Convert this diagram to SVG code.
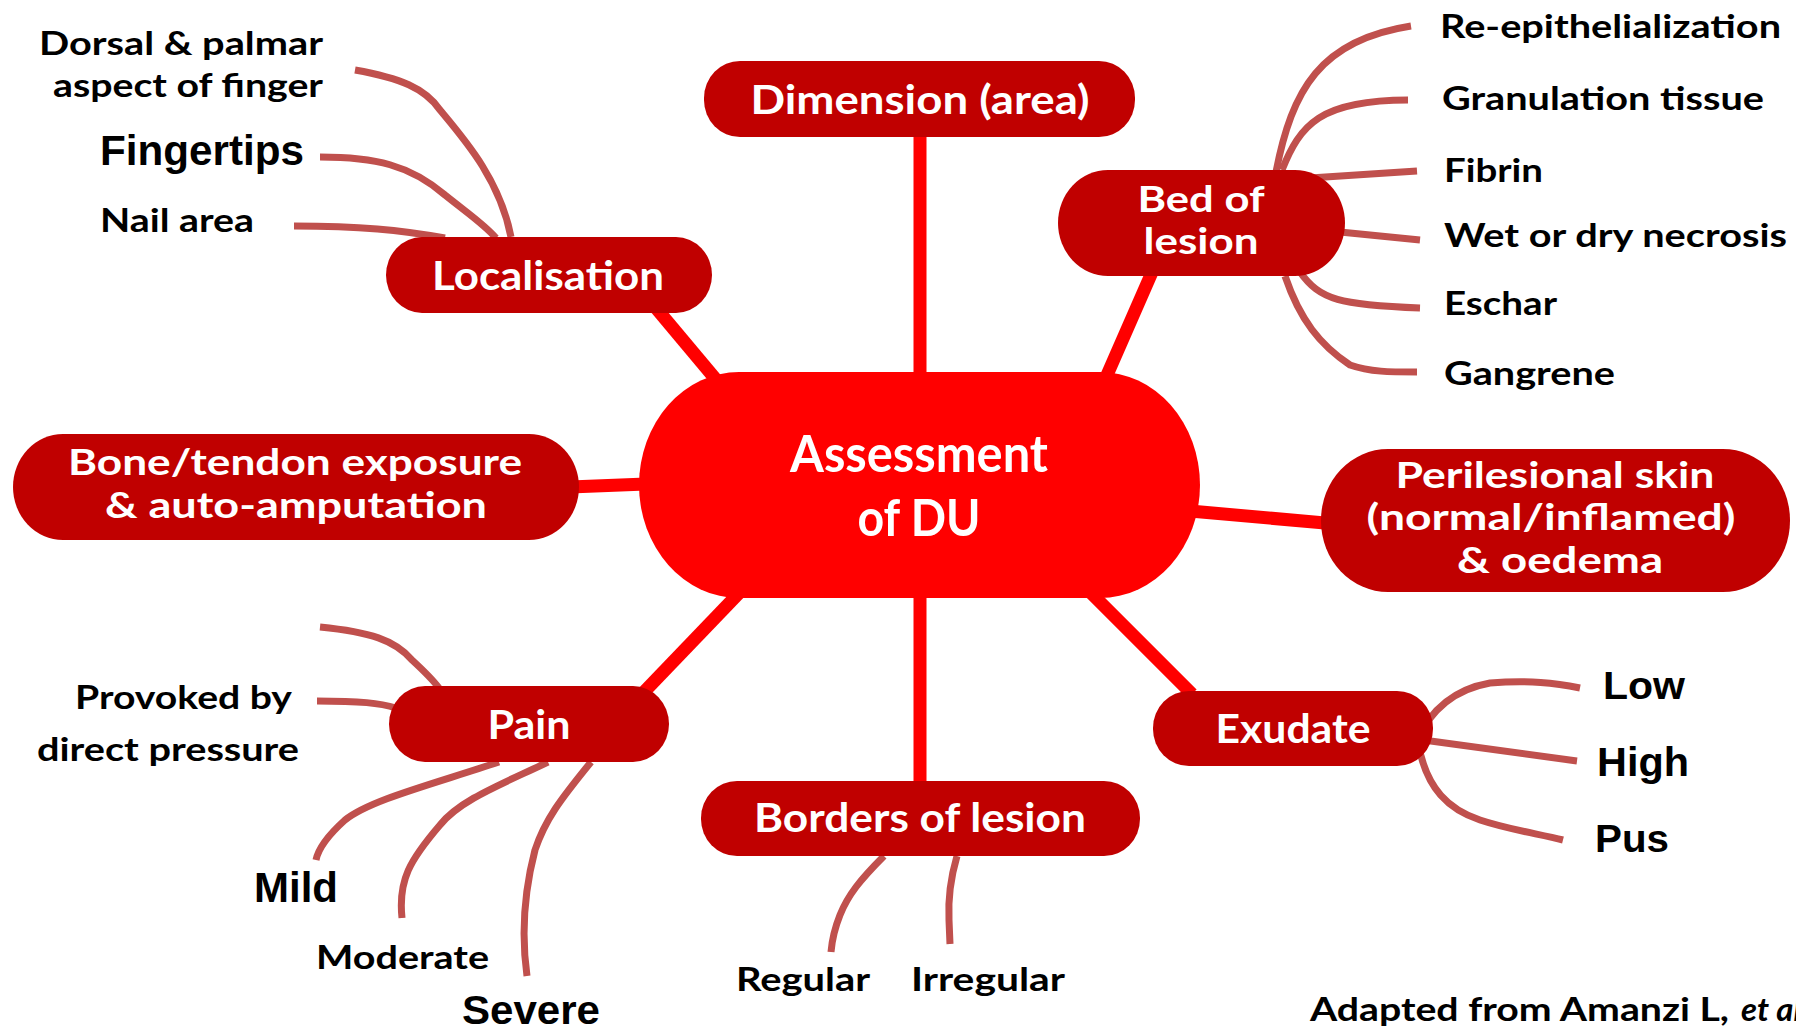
<svg xmlns="http://www.w3.org/2000/svg" width="1796" height="1029" viewBox="0 0 1796 1029">
<style>
.node{fill:#C00000}
.core{fill:#FF0000}
.main{stroke:#FF0000;stroke-width:13;fill:none}
.br{stroke:#C0504D;stroke-width:7;fill:none}
.nt{font-family:Lato,"Liberation Sans",sans-serif;font-weight:bold;fill:#FFFFFF;font-size:40px;text-anchor:middle}
.nt2{font-family:Lato,"Liberation Sans",sans-serif;font-weight:bold;fill:#FFFFFF;font-size:37px;text-anchor:middle}
.ct{font-family:Lato,"Liberation Sans",sans-serif;font-weight:bold;fill:#FFFFFF;font-size:52px;text-anchor:middle}
.lt{font-family:Lato,"Liberation Sans",sans-serif;font-weight:bold;fill:#000000;font-size:33px}
.at{font-family:"Liberation Sans",Arial,sans-serif;font-weight:bold;fill:#000000}
</style>
<rect width="1796" height="1029" fill="#FFFFFF"/>
<g id="connectors">
<line class="main" x1="920" y1="380" x2="920" y2="130"/>
<line class="main" x1="920" y1="590" x2="920" y2="785"/>
<line class="main" x1="718" y1="382" x2="656" y2="308"/>
<line class="main" x1="1104" y1="382" x2="1153" y2="270"/>
<line class="main" x1="570" y1="487" x2="646" y2="484"/>
<line class="main" x1="1190" y1="511" x2="1325" y2="523"/>
<line class="main" x1="740" y1="592" x2="644" y2="692"/>
<line class="main" x1="1090" y1="592" x2="1192" y2="694"/>
<path class="br" d="M355,70 C400,78 425,88 440,110 C465,140 500,180 511,237"/>
<path class="br" d="M320,157 C375,157 410,165 445,195 C470,215 485,225 496,238"/>
<path class="br" d="M294,226 C360,226 400,230 445,238"/>
<path class="br" d="M1276,172 C1292,90 1320,40 1411,26"/>
<path class="br" d="M1282,170 C1300,125 1320,100 1408,100"/>
<path class="br" d="M1310,178 L1417,171"/>
<path class="br" d="M1340,232 L1420,240"/>
<path class="br" d="M1300,272 C1320,300 1340,305 1420,308"/>
<path class="br" d="M1285,276 C1300,320 1320,345 1350,365 C1370,372 1390,372 1417,372"/>
<path class="br" d="M320,627 C370,632 395,640 412,660 C425,672 433,680 439,688"/>
<path class="br" d="M317,701 C360,701 380,703 396,708"/>
<path class="br" d="M499,762 C430,785 370,800 345,820 C325,838 318,850 316,860"/>
<path class="br" d="M548,762 C500,785 460,800 440,825 C410,860 398,880 402,918"/>
<path class="br" d="M591,762 C560,800 545,820 535,850 C522,900 522,940 527,976"/>
<path class="br" d="M884,856 C860,880 848,895 840,915 C834,930 832,940 831,952"/>
<path class="br" d="M957,856 C950,880 948,900 949,920 L950,944"/>
<path class="br" d="M1416,742 C1428,715 1450,690 1490,683 C1530,680 1555,683 1580,688"/>
<path class="br" d="M1416,739 L1577,761"/>
<path class="br" d="M1418,742 C1426,790 1450,810 1480,820 C1510,830 1540,834 1563,840"/>
</g>
<g id="n-center">
<rect class="core" x="639" y="372" width="561" height="226" rx="100" ry="113"/>
<text class="ct" x="919" y="472" textLength="258" lengthAdjust="spacingAndGlyphs">Assessment</text>
<text class="ct" x="919" y="536" textLength="123" lengthAdjust="spacingAndGlyphs">of DU</text>
</g>
<g id="n-dimension">
<rect class="node" x="704" y="61" width="431" height="76" rx="36" ry="37"/>
<text class="nt" x="920" y="114" textLength="339" lengthAdjust="spacingAndGlyphs">Dimension (area)</text>
</g>
<g id="n-bed">
<rect class="node" x="1058" y="170" width="287" height="106" rx="50" ry="53"/>
<text class="nt2" x="1201" y="212" textLength="127" lengthAdjust="spacingAndGlyphs">Bed of</text>
<text class="nt2" x="1201" y="254" textLength="115" lengthAdjust="spacingAndGlyphs">lesion</text>
</g>
<g id="n-localisation">
<rect class="node" x="386" y="237" width="326" height="76" rx="36" ry="38"/>
<text class="nt" x="548" y="290" textLength="232" lengthAdjust="spacingAndGlyphs">Localisation</text>
</g>
<g id="n-bone">
<rect class="node" x="13" y="434" width="566" height="106" rx="50" ry="53"/>
<text class="nt2" x="295" y="475" textLength="454" lengthAdjust="spacingAndGlyphs">Bone/tendon exposure</text>
<text class="nt2" x="296" y="518" textLength="382" lengthAdjust="spacingAndGlyphs">&amp; auto-amputation</text>
</g>
<g id="n-perilesional">
<rect class="node" x="1321" y="449" width="469" height="143" rx="67" ry="71"/>
<text class="nt2" x="1555" y="488" textLength="319" lengthAdjust="spacingAndGlyphs">Perilesional skin</text>
<text class="nt2" x="1551" y="530" textLength="369" lengthAdjust="spacingAndGlyphs">(normal/inflamed)</text>
<text class="nt2" x="1560" y="573" textLength="206" lengthAdjust="spacingAndGlyphs">&amp; oedema</text>
</g>
<g id="n-pain">
<rect class="node" x="389" y="686" width="280" height="76" rx="36" ry="38"/>
<text class="nt" x="529" y="739" textLength="83" lengthAdjust="spacingAndGlyphs">Pain</text>
</g>
<g id="n-borders">
<rect class="node" x="701" y="781" width="439" height="75" rx="36" ry="37"/>
<text class="nt" x="920" y="832" textLength="332" lengthAdjust="spacingAndGlyphs">Borders of lesion</text>
</g>
<g id="n-exudate">
<rect class="node" x="1153" y="691" width="280" height="75" rx="36" ry="37"/>
<text class="nt" x="1293" y="743" textLength="155" lengthAdjust="spacingAndGlyphs">Exudate</text>
</g>
<g id="leaves">
<text class="lt" x="39" y="55" textLength="284" lengthAdjust="spacingAndGlyphs">Dorsal &amp; palmar</text>
<text class="lt" x="53" y="97" textLength="270" lengthAdjust="spacingAndGlyphs">aspect of finger</text>
<text class="at" x="100" y="165" font-size="42" textLength="204" lengthAdjust="spacingAndGlyphs">Fingertips</text>
<text class="lt" x="100" y="232" textLength="154" lengthAdjust="spacingAndGlyphs">Nail area</text>
<text class="lt" x="1440" y="38" textLength="341" lengthAdjust="spacingAndGlyphs">Re-epithelialization</text>
<text class="lt" x="1442" y="110" textLength="322" lengthAdjust="spacingAndGlyphs">Granulation tissue</text>
<text class="lt" x="1444" y="182" textLength="99" lengthAdjust="spacingAndGlyphs">Fibrin</text>
<text class="lt" x="1444" y="247" textLength="343" lengthAdjust="spacingAndGlyphs">Wet or dry necrosis</text>
<text class="lt" x="1444" y="315" textLength="113" lengthAdjust="spacingAndGlyphs">Eschar</text>
<text class="lt" x="1444" y="385" textLength="171" lengthAdjust="spacingAndGlyphs">Gangrene</text>
<text class="lt" x="75" y="709" textLength="217" lengthAdjust="spacingAndGlyphs">Provoked by</text>
<text class="lt" x="37" y="761" textLength="262" lengthAdjust="spacingAndGlyphs">direct pressure</text>
<text class="at" x="254" y="902" font-size="42" textLength="84" lengthAdjust="spacingAndGlyphs">Mild</text>
<text class="lt" x="316" y="969" textLength="173" lengthAdjust="spacingAndGlyphs">Moderate</text>
<text class="at" x="462" y="1024" font-size="40" textLength="138" lengthAdjust="spacingAndGlyphs">Severe</text>
<text class="lt" x="736" y="991" textLength="134" lengthAdjust="spacingAndGlyphs">Regular</text>
<text class="lt" x="911" y="991" textLength="154" lengthAdjust="spacingAndGlyphs">Irregular</text>
<text class="at" x="1603" y="699" font-size="39" textLength="82" lengthAdjust="spacingAndGlyphs">Low</text>
<text class="at" x="1597" y="776" font-size="40" textLength="92" lengthAdjust="spacingAndGlyphs">High</text>
<text class="at" x="1595" y="852" font-size="39" textLength="74" lengthAdjust="spacingAndGlyphs">Pus</text>
</g>
<g id="citation">
<text class="lt" x="1310" y="1021" textLength="419" lengthAdjust="spacingAndGlyphs">Adapted from Amanzi L,</text>
<text class="lt" x="1741" y="1021" font-style="italic">et al.</text>
</g>
</svg>
